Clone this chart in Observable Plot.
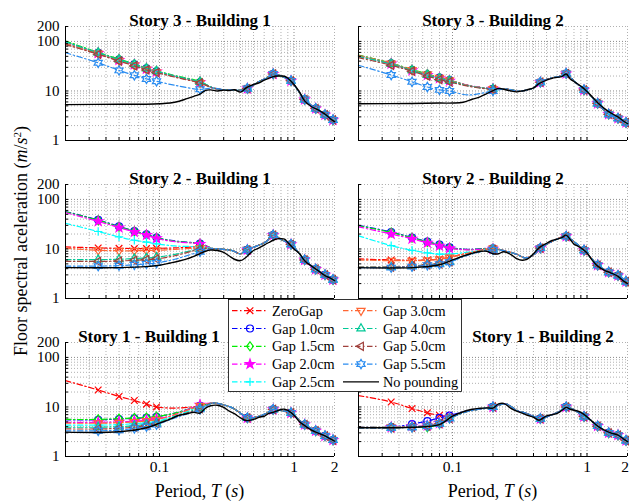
<!DOCTYPE html>
<html>
<head>
<meta charset="utf-8">
<script src="https://cdn.jsdelivr.net/npm/d3@7"></script>
<script src="https://cdn.jsdelivr.net/npm/@observablehq/plot@0.6"></script>
<style>
  body { margin: 0; background: #fff; }
  #fig { position: relative; width: 629px; height: 504px; overflow: hidden;
         font-family: "Liberation Serif", "Times New Roman", serif; color: #000; }
  #fig > svg { position: absolute; }
  .lab { position: absolute; white-space: nowrap; font-size: 18px; line-height: 1; }
  .lab sup { font-size: 0.62em; vertical-align: 0.55em; }
</style>
</head>
<body>
<div id="fig"></div>
<script>
// ---- series ----
const seriesNames = ["ZeroGap", "Gap 1.0cm", "Gap 1.5cm", "Gap 2.0cm", "Gap 2.5cm",
                     "Gap 3.0cm", "Gap 4.0cm", "Gap 5.0cm", "Gap 5.5cm"];
const referenceName = "No pounding";

// ---- periods (s) ----
const periodsHead = [0.02, 0.035, 0.05, 0.065, 0.08, 0.095, 0.13, 0.2];
const periodsTail = [0.25, 0.3, 0.35, 0.4, 0.45, 0.55, 0.62, 0.7, 0.8, 0.95, 1.05, 1.2, 1.45, 1.7, 1.95, 2.0];
const periodsFree = [0.02, 0.05, 0.08, 0.1, 0.12, 0.14, 0.16, 0.18, 0.2, 0.22, 0.24, 0.27, 0.3, 0.33,
                     0.36, 0.4, 0.44, 0.5, 0.55, 0.6, 0.65, 0.7, 0.75, 0.8, 0.85, 0.9, 1.0, 1.1,
                     1.2, 1.35, 1.5, 1.7, 1.85, 2.0];
const markerPeriods = [0.035, 0.05, 0.065, 0.08, 0.095, 0.2, 0.45, 0.7, 0.95, 1.2, 1.45, 1.7, 1.95];

// ---- axis ticks ----
const xTickLabels = [0.1, 1, 2];
const yTickLabels = [1, 10, 100, 200];

// ---- Story 3 - Building 1 (m/s^2) ----
const s3b1Head = [
  [90, 56, 41, 33, 27, 24, 19.5, 14.5],
  [97, 59, 43, 34.5, 28.5, 25, 20, 15],
  [102, 60, 44, 35, 29, 25.5, 20.5, 15.5],
  [95, 58, 42, 34, 28, 24.5, 20, 15],
  [93, 57, 41.5, 33.5, 27.5, 24, 19.5, 14.8],
  [92, 57, 41, 33, 27, 24, 19.5, 14.5],
  [98, 59, 43, 34.5, 28.5, 25, 20, 15.2],
  [86, 55, 40, 32, 26.5, 23.5, 19, 14.5],
  [59, 37, 26, 20.7, 17.5, 15.7, 13, 10.8]
];
const s3b1Tail = [11.5, 10.6, 10.5, 10.3, 11.2, 15.5, 18, 22, 20, 16, 11, 6.7, 4.4, 3.3, 2.6, 2.45];
const s3b1Free = [5.3, 5.4, 5.4, 5.5, 5.7, 6.2, 7.0, 7.8, 8.6, 10.3, 10.5, 10.0, 10.4, 10.2, 10.6, 9.5,
                  11.5, 13.5, 14.5, 16.5, 18, 19.5, 20, 20, 19.8, 18, 13.5, 9.5, 6.3, 4.8, 4.2, 3.4, 2.8, 2.4];

// ---- Story 3 - Building 2 ----
const s3b2Head = [
  [50, 35, 26, 21, 18, 16, 13, 11],
  [52, 36, 26.5, 21.5, 18.5, 16.5, 13, 11],
  [53, 36.5, 27, 22, 18.5, 16.5, 13, 11],
  [51, 35.5, 26, 21, 18, 16, 13, 11],
  [50, 35, 26, 21, 18, 16, 12.8, 11],
  [52, 36, 26.5, 21.5, 18.5, 16.5, 13, 11],
  [50, 35, 26, 21, 18, 16, 12.8, 11],
  [47, 33, 25, 20, 17, 15.3, 12.5, 10.8],
  [33, 21, 15.3, 12, 10.5, 10, 8.3, 10]
];
const s3b2Tail = [11, 10, 10.3, 11.5, 15, 18.5, 19.5, 22.5, 16, 10.5, 8.3, 5.6, 3.4, 2.8, 2.3, 2.2];
const s3b2Free = [5.5, 5.6, 5.7, 5.7, 5.9, 6.8, 7.6, 8.8, 10.2, 11.3, 10.8, 10.0, 9.6, 10.0, 10.6, 11.5,
                  14.0, 16.5, 18, 18.8, 19.5, 22, 17.5, 15.5, 14, 12.5, 9.8, 7.5, 5.8, 4.4, 3.6, 3.0, 2.5, 2.2];

// ---- Story 2 - Building 1 ----
const s2b1Head = [
  [11, 10.5, 10.3, 10.2, 10.2, 10.3, 10.5, 11],
  [57, 38.5, 28.5, 23, 19.8, 17, 14.5, 12.8],
  [56, 38, 28, 22.8, 19.5, 16.8, 14.3, 12.7],
  [54, 36, 27, 22, 19, 16.3, 14, 12.5],
  [33, 22.5, 17.5, 15, 13.8, 12.7, 11.5, 11],
  [10.3, 9.4, 9.2, 9.2, 9.3, 9.4, 9.8, 10.5],
  [6.1, 6.1, 6.2, 6.4, 6.6, 6.8, 7.8, 10],
  [5.6, 5.6, 5.7, 5.9, 6.1, 6.3, 7.3, 9.8],
  [4.5, 4.5, 4.6, 4.8, 5.0, 5.2, 6.2, 8.8]
];
const s2b1Tail = [10.2, 9.8, 9.2, 8.0, 9.6, 12, 14, 19, 15.5, 12.4, 9.3, 6.0, 3.9, 3.0, 2.4, 2.3];
const s2b1Free = [4.2, 4.2, 4.4, 4.7, 5.2, 5.7, 6.3, 7.1, 8.0, 9.0, 9.5, 9.3, 8.5, 7.2, 6.2, 5.8,
                  6.8, 9.3, 10.5, 12, 13.5, 15, 16, 16.2, 15.8, 13.5, 10, 8, 5.8, 4.5, 3.7, 2.9, 2.6, 2.3];

// ---- Story 2 - Building 2 ----
const s2b2Head = [
  [6.3, 6.0, 5.9, 6.0, 6.3, 6.8, 8.3, 10.2],
  [30, 22, 17, 14, 12.2, 10.8, 9.8, 10.3],
  [29.5, 21.5, 16.8, 13.8, 12, 10.6, 9.7, 10.2],
  [28, 20, 16, 13.3, 11.6, 10.3, 9.6, 10],
  [18.4, 11.7, 9.4, 8.3, 7.9, 7.9, 8.6, 10],
  [6.0, 5.8, 5.8, 5.9, 6.2, 6.7, 8.2, 10.2],
  [4.3, 4.3, 4.5, 4.8, 5.0, 5.5, 7.6, 9.8],
  [4.3, 4.3, 4.5, 4.8, 5.0, 5.5, 7.6, 9.7],
  [4.2, 4.2, 4.4, 4.7, 4.9, 5.4, 7.5, 9.6]
];
const s2b2Tail = [9.0, 7.8, 6.6, 7.6, 10.4, 14.2, 16.5, 18, 14, 9.4, 7.0, 4.7, 3.4, 2.9, 2.2, 2.1];
const s2b2Free = [4.2, 4.2, 4.8, 6.0, 7.2, 8.2, 8.9, 9.0, 8.0, 8.0, 8.8, 7.8, 6.4, 5.9, 6.2, 8.0,
                  10.5, 13, 14.8, 15.8, 17, 19, 15.5, 12.5, 11.5, 10.5, 8.3, 5.8, 4.5, 3.7, 3.3, 2.8, 2.3, 2.0];

// ---- Story 1 - Building 1 ----
const s1b1Head = [
  [34, 22, 16.3, 13.5, 11.4, 10, 9.5, 10.5],
  [5.5, 5.5, 5.7, 5.9, 6.0, 6.3, 7.5, 10.5],
  [5.6, 5.6, 5.8, 6.0, 6.1, 6.4, 7.5, 10.5],
  [4.9, 4.9, 5.0, 5.2, 5.4, 5.7, 7.0, 11],
  [4.3, 4.3, 4.4, 4.6, 4.8, 5.1, 6.6, 10],
  [4.7, 4.7, 4.8, 5.0, 5.2, 5.5, 7.0, 10.5],
  [3.9, 3.9, 4.0, 4.2, 4.5, 4.8, 6.3, 9.5],
  [3.6, 3.6, 3.7, 3.9, 4.2, 4.6, 6.2, 9.3],
  [3.3, 3.3, 3.4, 3.7, 4.0, 4.4, 6.0, 9.0]
];
const s1b1Tail = [12, 11, 9.5, 7.5, 6.0, 6.5, 7.4, 8.9, 8.5, 7.6, 6.0, 4.4, 3.3, 2.6, 2.15, 2.05];
const s1b1Free = [3.1, 3.15, 3.8, 4.7, 5.7, 6.8, 7.3, 7.8, 7.5, 9.5, 10.6, 10.8, 9.8, 8.2, 7.3, 6.0,
                  5.3, 5.6, 6.2, 6.5, 7.4, 7.8, 8.3, 8.9, 9.0, 8.5, 6.8, 5.0, 4.2, 3.4, 3.0, 2.6, 2.3, 2.05];

// ---- Story 1 - Building 2 ----
const s1b2Head = [
  [17, 12.6, 9.3, 7.6, 6.8, 6.5, 8.3, 10],
  [3.9, 3.9, 4.5, 5.2, 6.0, 6.7, 8.4, 10],
  [3.9, 3.9, 4.0, 3.9, 4.6, 6.0, 8.2, 10],
  [3.9, 3.9, 4.1, 4.2, 4.7, 6.1, 8.2, 10],
  [3.9, 3.9, 4.0, 4.2, 4.7, 6.0, 8.2, 10],
  [3.9, 3.9, 4.0, 4.2, 4.7, 6.1, 8.2, 10],
  [3.8, 3.8, 3.9, 4.1, 4.6, 5.9, 8.1, 10],
  [3.8, 3.8, 3.9, 4.1, 4.6, 5.9, 8.1, 10],
  [3.8, 3.8, 3.9, 4.1, 4.6, 5.9, 8.1, 10]
];
const s1b2Tail = [11.5, 8.5, 7.5, 6.5, 5.8, 7.0, 8.0, 10, 8.8, 6.4, 5.6, 4.1, 3.0, 2.7, 2.1, 2.0];
const s1b2Free = [3.8, 3.9, 4.4, 6.5, 8.0, 9.0, 9.4, 9.6, 9.5, 11.5, 11.8, 9.5, 8.2, 7.5, 6.8, 6.2,
                  5.4, 6.6, 7.0, 7.4, 8.5, 9.8, 9.0, 8.6, 8.3, 7.8, 6.3, 5.0, 4.1, 3.4, 3.0, 2.7, 2.3, 2.0];

// titleShift moves a panel title sideways so it clears the legend
const panels = [
  {title: "Story 3 - Building 1", head: s3b1Head, tail: s3b1Tail, free: s3b1Free, row: 0, col: 0, titleShift: 0},
  {title: "Story 3 - Building 2", head: s3b2Head, tail: s3b2Tail, free: s3b2Free, row: 0, col: 1, titleShift: 0},
  {title: "Story 2 - Building 1", head: s2b1Head, tail: s2b1Tail, free: s2b1Free, row: 1, col: 0, titleShift: 0},
  {title: "Story 2 - Building 2", head: s2b2Head, tail: s2b2Tail, free: s2b2Free, row: 1, col: 1, titleShift: 0},
  {title: "Story 1 - Building 1", head: s1b1Head, tail: s1b1Tail, free: s1b1Free, row: 2, col: 0, titleShift: -51},
  {title: "Story 1 - Building 2", head: s1b2Head, tail: s1b2Tail, free: s1b2Free, row: 2, col: 1, titleShift: 50}
];

// ---- styling ----
const seriesColors = ["#ff0000", "#0000ff", "#00ee00", "#ff00ff", "#00ffff",
                      "#ff6633", "#00c896", "#a0413c", "#2a8cf0"];
const dashDot = "5.5,2.5,1.5,2.5";

// marker shapes, drawn around the origin; r is the nominal radius
function shape(fn) { return {draw(ctx, size) { fn(ctx, Math.sqrt(size / Math.PI)); }}; }
function polygon(ctx, pts) { pts.forEach(([x, y], i) => i ? ctx.lineTo(x, y) : ctx.moveTo(x, y)); ctx.closePath(); }
function starPts(n, R, ri, a0) {
  const pts = [];
  for (let i = 0; i < 2 * n; i++) {
    const a = a0 + i * Math.PI / n, rr = i % 2 ? ri : R;
    pts.push([rr * Math.cos(a), rr * Math.sin(a)]);
  }
  return pts;
}
function triPts(R, a0) { return [0, 1, 2].map(k => [R * Math.cos(a0 + k * 2 * Math.PI / 3), R * Math.sin(a0 + k * 2 * Math.PI / 3)]); }
const symTimes = shape((c, r) => { const s = r * 0.95; c.moveTo(-s, -s); c.lineTo(s, s); c.moveTo(-s, s); c.lineTo(s, -s); });
const symCircle = shape((c, r) => { c.moveTo(r, 0); c.arc(0, 0, r, 0, 2 * Math.PI); });
const symDiamond = shape((c, r) => polygon(c, [[0, -1.3 * r], [0.95 * r, 0], [0, 1.3 * r], [-0.95 * r, 0]]));
const symStar = shape((c, r) => polygon(c, starPts(5, 1.4 * r, 0.55 * r, -Math.PI / 2)));
const symPlus = shape((c, r) => { const s = 1.2 * r; c.moveTo(-s, 0); c.lineTo(s, 0); c.moveTo(0, -s); c.lineTo(0, s); });
const symTriDown = shape((c, r) => polygon(c, triPts(1.35 * r, Math.PI / 2)));
const symTriUp = shape((c, r) => polygon(c, triPts(1.35 * r, -Math.PI / 2)));
const symTriLeft = shape((c, r) => polygon(c, triPts(1.35 * r, Math.PI)));
const symHexagram = shape((c, r) => polygon(c, starPts(6, 1.35 * r, 1.35 * r / Math.sqrt(3), -Math.PI / 2)));
const seriesSymbols = [symTimes, symCircle, symDiamond, symStar, symPlus, symTriDown, symTriUp, symTriLeft, symHexagram];
const seriesFilled = [false, false, false, true, false, false, false, false, false];
const markerR = 3.5;
const seriesWidth = 1.2;

// ---- layout ----
const W = 269, H = 114, mL = 40, mR = 6, mT = 26, mB = 26;
const plotLeft = [65, 358], plotTop = [26, 184, 342];

// grid positions: every integer multiple inside each decade
function logGrid(lo, hi) {
  const out = [];
  for (let e = -3; e <= 3; e++) for (let k = 1; k <= 9; k++) {
    const v = +(k * Math.pow(10, e)).toPrecision(6);
    if (v >= lo - 1e-9 && v <= hi + 1e-9) out.push(v);
  }
  return out;
}
const gridX = logGrid(0.02, 2), gridY = logGrid(1, 200);
const majorX = [0.1, 1], majorY = [10, 100];

const fig = document.getElementById("fig");
const fontStack = "'Liberation Serif', 'Times New Roman', serif";

for (const p of panels) {
  const marks = [
    Plot.ruleX(gridX.filter(v => v > 0.02 && !majorX.includes(v)), {stroke: "#b0b0b0", strokeDasharray: "1,2"}),
    Plot.ruleY(gridY.filter(v => v > 1 && !majorY.includes(v)), {stroke: "#b0b0b0", strokeDasharray: "1,2"}),
    Plot.ruleX(majorX, {stroke: "#8a8a8a", strokeDasharray: "1,2"}),
    Plot.ruleY(majorY, {stroke: "#8a8a8a", strokeDasharray: "1,2"})
  ];
  seriesNames.forEach((name, i) => {
    const rows = periodsHead.map((T, j) => ({T, a: p.head[i][j], name}))
      .concat(periodsTail.map((T, j) => ({T, a: p.tail[j], name})));
    marks.push(Plot.line(rows, {x: "T", y: "a", stroke: seriesColors[i], strokeWidth: seriesWidth,
      strokeDasharray: dashDot, curve: "catmull-rom"}));
    marks.push(Plot.dot(rows.filter(d => markerPeriods.includes(d.T)), {x: "T", y: "a",
      symbol: seriesSymbols[i], r: markerR, stroke: seriesColors[i], strokeWidth: seriesWidth,
      fill: seriesFilled[i] ? seriesColors[i] : "none"}));
  });
  marks.push(Plot.line(periodsFree.map((T, j) => ({T, a: p.free[j]})),
    {x: "T", y: "a", stroke: "black", strokeWidth: 1.4, curve: "catmull-rom"}));
  // axis lines and inward ticks
  marks.push(Plot.ruleX([0.02], {stroke: "black"}));
  marks.push(Plot.ruleY([1], {stroke: "black"}));
  marks.push(Plot.axisX(gridX, {anchor: "bottom", tickSize: -3, tickFormat: () => "", fill: "none", label: null}));
  marks.push(Plot.axisY(gridY, {anchor: "left", tickSize: -3, tickFormat: () => "", fill: "none", label: null}));
  // tick labels; the last x label of the right column is kept inside the page edge
  if (p.row === 2) {
    const lastX = xTickLabels[xTickLabels.length - 1];
    const inner = p.col === 1 ? xTickLabels.slice(0, -1) : xTickLabels;
    marks.push(Plot.text(inner, {x: d => d, frameAnchor: "bottom", dy: 15,
      text: d => String(d), fontSize: 15.5, fill: "black"}));
    if (p.col === 1) marks.push(Plot.text([lastX], {x: d => d, frameAnchor: "bottom", dy: 15, dx: 1.5,
      textAnchor: "end", text: d => String(d), fontSize: 15.5, fill: "black"}));
  }
  if (p.col === 0) marks.push(Plot.text(yTickLabels, {y: d => d, frameAnchor: "left", dx: -6,
      textAnchor: "end", text: d => String(d), fontSize: 15, fill: "black"}));
  marks.push(Plot.text([p.title], {text: d => d, frameAnchor: "top", dy: -12.5, dx: p.titleShift,
      fontWeight: "bold", fontSize: 17, fill: "black"}));

  const chart = Plot.plot({
    width: mL + W + mR, height: mT + H + mB,
    marginLeft: mL, marginRight: mR, marginTop: mT, marginBottom: mB,
    x: {type: "log", domain: [0.02, 2]},
    y: {type: "log", domain: [1, 200]},
    style: {background: "transparent", overflow: "visible", fontFamily: fontStack, fontSize: "16px", color: "black"},
    marks
  });
  chart.style.position = "absolute";
  chart.style.left = (plotLeft[p.col] - mL) + "px";
  chart.style.top = (plotTop[p.row] - mT) + "px";
  chart.style.maxWidth = "none";
  fig.appendChild(chart);
}

// ---- axis titles ----
const ylab = document.createElement("div");
ylab.className = "lab";
ylab.innerHTML = "Floor spectral aceleration (<i>m</i>/<i>s</i><sup>2</sup>)";
ylab.style.left = "21px"; ylab.style.top = "241px";
ylab.style.transform = "translate(-50%, -50%) rotate(-90deg)";
fig.appendChild(ylab);
for (const c of [0, 1]) {
  const xl = document.createElement("div");
  xl.className = "lab";
  xl.innerHTML = "Period, <i>T</i> (<i>s</i>)";
  xl.style.left = (plotLeft[c] + W / 2) + "px"; xl.style.top = "491px";
  xl.style.transform = "translate(-50%, -50%)";
  fig.appendChild(xl);
}

// ---- legend ----
const leg = d3.create("svg").attr("width", 629).attr("height", 504)
  .style("left", "0px").style("top", "0px").style("overflow", "visible");
leg.append("rect").attr("x", 228.5).attr("y", 299.5).attr("width", 233).attr("height", 92)
  .attr("fill", "white").attr("stroke", "black").attr("stroke-width", 0.8);
const legendItems = seriesNames.map((name, i) => ({name, color: seriesColors[i], sym: seriesSymbols[i], filled: seriesFilled[i]}))
  .concat([{name: referenceName, color: "black", sym: null}]);
legendItems.forEach((it, k) => {
  const col = k < 5 ? 0 : 1, row = k % 5;
  const x0 = [232, 343][col], y = 310.7 + row * 17.8;
  const g = leg.append("g");
  g.append("line").attr("x1", x0).attr("x2", x0 + 36).attr("y1", y).attr("y2", y)
    .attr("stroke", it.color).attr("stroke-width", it.sym ? seriesWidth : 1.4)
    .attr("stroke-dasharray", it.sym ? dashDot : null);
  if (it.sym) {
    const path = d3.path();
    it.sym.draw(path, Math.PI * markerR * markerR);
    g.append("path").attr("d", path.toString()).attr("transform", `translate(${x0 + 18},${y})`)
      .attr("stroke", it.color).attr("fill", it.filled ? it.color : "none").attr("stroke-width", seriesWidth);
  }
  g.append("text").attr("x", x0 + 40).attr("y", y).attr("dy", "0.35em")
    .attr("font-family", fontStack).attr("font-size", 14.3).attr("fill", "black").text(it.name);
});
fig.appendChild(leg.node());
</script>
</body>
</html>
